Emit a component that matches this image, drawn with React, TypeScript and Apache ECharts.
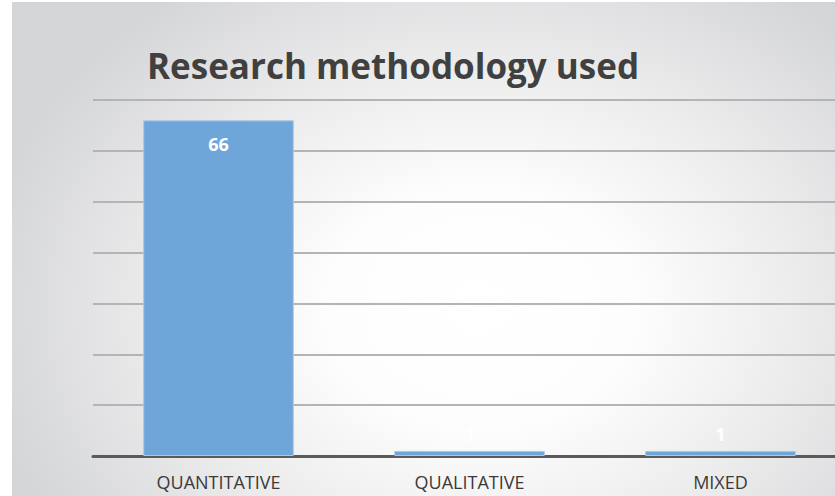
import React, { useEffect, useRef } from "react";
import * as echarts from "echarts";

const categories = ["QUANTITATIVE", "QUALITATIVE", "MIXED"];
const values = [66, 1, 1];
const chartTitle = "Research methodology used";

export default function App() {
  const ref = useRef<HTMLDivElement>(null);
  useEffect(() => {
    if (!ref.current) return;
    const chart = echarts.init(ref.current, undefined, { renderer: "svg" });
    chart.setOption({
      animation: false,
      title: {
        text: chartTitle,
        left: 130,
        top: 41,
        textStyle: {
          fontFamily: "Open Sans",
          fontWeight: "bold",
          fontSize: 35,
          color: "#404040",
        },
      },
      grid: { left: 81, right: 0, top: 98, bottom: 40, containLabel: false },
      xAxis: {
        type: "category",
        data: categories,
        axisLine: { lineStyle: { color: "#5a5a5a", width: 3 } },
        axisTick: { show: false },
        axisLabel: {
          margin: 17,
          fontFamily: "Open Sans",
          fontSize: 18,
          color: "#3a3a3a",
        },
      },
      yAxis: {
        type: "value",
        min: 0,
        max: 70,
        interval: 10,
        axisLabel: { show: false },
        axisLine: { show: false },
        axisTick: { show: false },
        splitLine: { lineStyle: { color: "#b3b4b6", width: 2 } },
      },
      series: [
        {
          type: "bar",
          data: values.map((v) => ({
            value: v,
            label: v > 10 ? { position: "insideTop", distance: 15 } : { position: "top", distance: 8 },
          })),
          barWidth: "60%",
          itemStyle: { color: "#6FA6D9", borderColor: "#a8c8ea", borderWidth: 1 },
          label: {
            show: true,
            color: "#ffffff",
            fontFamily: "Open Sans",
            fontWeight: "bold",
            fontSize: 18,
          },
        },
      ],
    });
    return () => chart.dispose();
  }, []);
  return (
    <div style={{ position: "fixed", left: 0, top: 0, width: 835, height: 496, background: "#ffffff", overflow: "hidden" }}>
      <div
        style={{
          position: "absolute",
          left: 12,
          top: 2,
          width: 823,
          height: 494,
          overflow: "hidden",
          background:
            "radial-gradient(ellipse 62% 80% at 57% 62%, #ffffff 0%, #fdfdfd 30%, #ececed 62%, #d4d5d7 100%)",
        }}
      >
        <div ref={ref} style={{ width: 834, height: 494 }} />
      </div>
    </div>
  );
}
